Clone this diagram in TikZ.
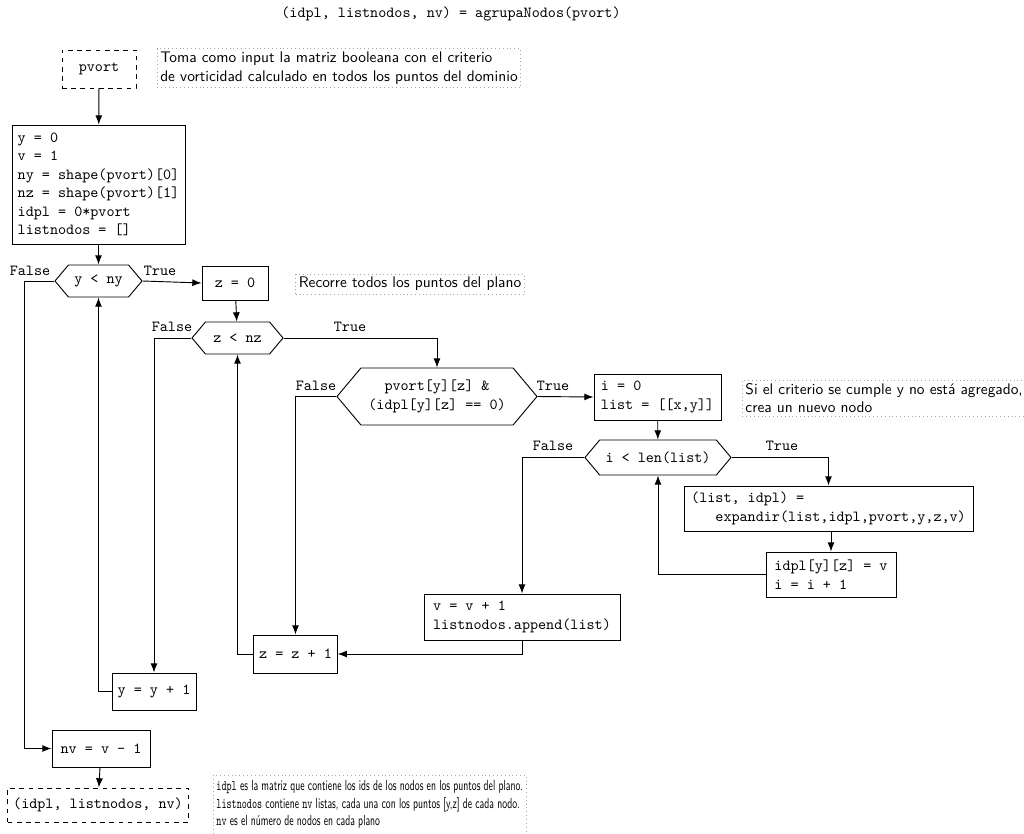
\documentclass[tikz,border=0pt]{standalone}
\usepackage{graphicx}
\usetikzlibrary{shapes.symbols,arrows.meta}
\tikzset{
  proc/.style={draw,line width=0.6pt,font=\ttfamily,inner sep=3.5pt,align=left},
  io/.style={proc,dashed},
  cond/.style={draw,line width=0.6pt,font=\ttfamily,shape=signal,
    signal to=east and west,signal pointer angle=100,inner sep=2pt,align=center},
  note/.style={draw=gray!70,dotted,line width=0.5pt,font=\sffamily,align=left,inner sep=2pt},
  lbl/.style={font=\ttfamily,inner sep=0pt},
  flow/.style={line width=0.6pt,-{Latex[length=6pt,width=4.5pt]}},
}
\begin{document}
\begin{tikzpicture}[x=0.65pt,y=-0.65pt]
\useasboundingbox (0,0) rectangle (1024,834);

% title
\node[font=\ttfamily] (title) at (451,14) {(idpl, listnodos, nv) = agrupaNodos(pvort)};

% main flow nodes
\node[io,minimum width=74*0.65pt,minimum height=38*0.65pt,align=center] (pvort) at (99,69) {pvort};
\node[proc,minimum width=173*0.65pt,minimum height=119*0.65pt] (init) at (98.5,184.5)
  {y = 0\\v = 1\\ny = shape(pvort)[0]\\nz = shape(pvort)[1]\\idpl = 0*pvort\\listnodos = []};
\node[cond,minimum width=87*0.65pt,minimum height=32*0.65pt] (cy) at (98.5,281) {y < ny};
\node[proc,minimum width=66*0.65pt,minimum height=34*0.65pt,align=center] (z0) at (235,283) {z = 0};
\node[cond,minimum width=91*0.65pt,minimum height=32*0.65pt] (cz) at (237.5,338) {z < nz};
\node[cond,minimum width=200*0.65pt,minimum height=57*0.65pt] (cp) at (437,396.5) {pvort[y][z] \&\\(idpl[y][z] == 0)};
\node[proc,minimum width=127*0.65pt,minimum height=46*0.65pt] (i0) at (657.5,397) {i = 0\\list = [[x,y]]};
\node[cond,minimum width=146*0.65pt,minimum height=35*0.65pt] (ci) at (658,457.5) {i < len(list)};
\node[proc,minimum width=289*0.65pt,minimum height=45*0.65pt] (exp) at (828.5,508.5) {(list, idpl) =\\\ \ \ expandir(list,idpl,pvort,y,z,v)};
\node[proc,minimum width=130*0.65pt,minimum height=45*0.65pt] (idb) at (831,574.5) {idpl[y][z] = v\\i = i + 1};
\node[proc,minimum width=196*0.65pt,minimum height=46*0.65pt] (vb) at (522,617) {v = v + 1\\listnodos.append(list)};
\node[proc,minimum width=79*0.65pt,minimum height=38*0.65pt,align=center] (zb) at (295.5,654) {z = z + 1};
\node[proc,minimum width=84*0.65pt,minimum height=37*0.65pt,align=center] (yb) at (154,691.5) {y = y + 1};
\node[proc,minimum width=98*0.65pt,minimum height=37*0.65pt,align=center] (nvb) at (101,748.5) {nv = v - 1};
\node[io,minimum width=180*0.65pt,minimum height=34*0.65pt,align=center] (out) at (98,805) {(idpl, listnodos, nv)};

% annotations
\node[note] (n1) at (339,68) {Toma como input la matriz booleana con el criterio\\de vorticidad calculado en todos los puntos del dominio};
\node[note] (n2) at (410,284) {Recorre todos los puntos del plano};
\node[note,anchor=west] (n3) at (742,398) {Si el criterio se cumple y no está agregado,\\crea un nuevo nodo};
\node[note,anchor=west] (n4) at (213,804.5) {\scalebox{0.63}[0.95]{\begin{tabular}{@{}l@{}}%
  {\ttfamily idpl} es la matriz que contiene los ids de los nodos en los puntos del plano.\\
  {\ttfamily listnodos} contiene {\ttfamily nv} listas, cada una con los puntos [y,z] de cada nodo.\\
  {\ttfamily nv} es el número de nodos en cada plano\end{tabular}}};

% branch labels
\node[lbl] (fy) at (30,271) {False};
\node[lbl] (ty) at (160,271) {True};
\node[lbl] (fz) at (172,327) {False};
\node[lbl] (tz) at (350,327) {True};
\node[lbl] (fp) at (316,386) {False};
\node[lbl] (tp) at (553,386) {True};
\node[lbl] (fi) at (553,446) {False};
\node[lbl] (ti) at (782,446) {True};

% connectors
\draw[flow] (pvort) -- (init);
\draw[flow] (init) -- (cy);
\draw[flow] (cy.east) -- (z0.west);
\draw[flow] (cy.west) -- ++(-30,0) |- (nvb.west);
\draw[flow] (z0) -- (cz);
\draw[flow] (cz.east) -| (cp.north);
\draw[flow] (cz.west) -| (yb.north);
\draw[flow] (cp.east) -- (i0.west);
\draw[flow] (cp.west) -| (zb.north);
\draw[flow] (i0) -- (ci);
\draw[flow] (ci.east) -| (exp.north);
\draw[flow] (ci.west) -| (vb.north);
\draw[flow] (exp.south -| idb.north) -- (idb.north);
\draw[flow] (idb.west) -| (ci.south);
\draw[flow] (vb.south) |- (zb.east);
\draw[flow] (zb.west) -| (cz.south);
\draw[flow] (yb.west) -| (cy.south);
\draw[flow] (nvb) -- (out);
\end{tikzpicture}
\end{document}
